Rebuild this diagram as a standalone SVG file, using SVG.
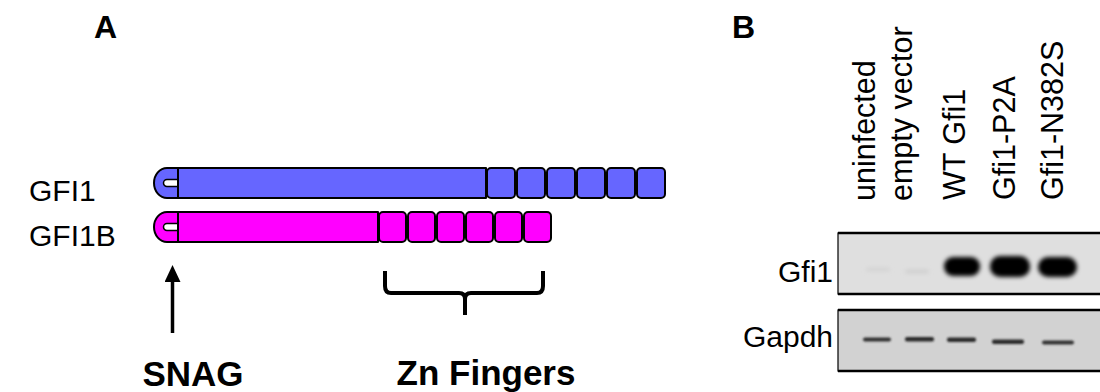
<svg xmlns="http://www.w3.org/2000/svg" width="1100" height="392" viewBox="0 0 1100 392">
  <defs>
    <style>
      .lbl { font-family: "Liberation Sans", Arial, sans-serif; fill: #000; }
      .panel { font-family: "Liberation Sans", Arial, sans-serif; font-weight: bold; fill: #000; }
      .dom { stroke: #000; stroke-width: 2; stroke-linejoin: round; }
      .g1 { fill: #6666ff; }
      .g1b { fill: #ff00ff; }
      .notch { fill: #fff; stroke: #000; stroke-width: 1.5; }
      .edge { stroke: #000; stroke-width: 2.5; }
    </style>
    <marker id="head" viewBox="0 0 17 16" refX="0" refY="8" markerWidth="17" markerHeight="16" markerUnits="userSpaceOnUse" orient="auto">
      <path d="M0,0 L17,8 L0,16 Z" fill="#000"/>
    </marker>
    <filter id="soft" x="-30%" y="-100%" width="160%" height="300%">
      <feGaussianBlur stdDeviation="2"/>
    </filter>
    <filter id="soft2" x="-30%" y="-150%" width="160%" height="400%">
      <feGaussianBlur stdDeviation="1.1"/>
    </filter>
  </defs>

  <rect width="1100" height="392" fill="#fff"/>

  <!-- panel letters -->
  <text class="panel" x="94" y="38" font-size="32">A</text>
  <text class="panel" x="732" y="38" font-size="32">B</text>

  <!-- GFI1 protein -->
  <g id="gfi1">
    <text class="lbl" x="29" y="201" font-size="30">GFI1</text>
    <path class="dom g1" d="M178,168 H167 A13,15 0 0 0 167,198 H178 Z"/>
    <path class="notch" d="M178,179.5 H167 A3.5,3.5 0 0 0 167,186.5 H178 Z"/>
    <rect class="dom g1" x="178" y="168" width="308" height="30"/>
    <rect class="dom g1" x="487" y="168" width="28" height="30" rx="4"/>
    <rect class="dom g1" x="517" y="168" width="28" height="30" rx="4"/>
    <rect class="dom g1" x="547" y="168" width="28" height="30" rx="4"/>
    <rect class="dom g1" x="577" y="168" width="28" height="30" rx="4"/>
    <rect class="dom g1" x="607" y="168" width="28" height="30" rx="4"/>
    <rect class="dom g1" x="637" y="168" width="28" height="30" rx="4"/>
  </g>

  <!-- GFI1B protein -->
  <g id="gfi1b">
    <text class="lbl" x="29" y="246" font-size="30">GFI1B</text>
    <path class="dom g1b" d="M178,212 H167 A13,15 0 0 0 167,242 H178 Z"/>
    <path class="notch" d="M178,223.5 H167 A3.5,3.5 0 0 0 167,230.5 H178 Z"/>
    <rect class="dom g1b" x="178" y="212" width="200" height="30"/>
    <rect class="dom g1b" x="379" y="212" width="27" height="30" rx="4"/>
    <rect class="dom g1b" x="408" y="212" width="27" height="30" rx="4"/>
    <rect class="dom g1b" x="437" y="212" width="27" height="30" rx="4"/>
    <rect class="dom g1b" x="466" y="212" width="27" height="30" rx="4"/>
    <rect class="dom g1b" x="495" y="212" width="27" height="30" rx="4"/>
    <rect class="dom g1b" x="524" y="212" width="27" height="30" rx="4"/>
  </g>

  <!-- domain annotations -->
  <g id="connectors">
    <line x1="172.5" y1="333" x2="172.5" y2="282" stroke="#000" stroke-width="3.5" marker-end="url(#head)"/>
    <path d="M385,271 V286 Q385,293 391,293 H459 Q465,293 465,299 V315 M465,299 Q465,293 471,293 H537 Q543,293 543,286 V271" fill="none" stroke="#000" stroke-width="4"/>
  </g>
  <g id="snag">
    <text class="panel" x="193" y="386" font-size="35" text-anchor="middle">SNAG</text>
  </g>
  <g id="znf">
    <text class="panel" x="486" y="385" font-size="35" text-anchor="middle">Zn Fingers</text>
  </g>

  <!-- lane labels -->
  <g id="lanes" class="lbl" font-size="30.5">
    <text transform="translate(875,201) rotate(-90)">uninfected</text>
    <text transform="translate(912,201) rotate(-90)">empty vector</text>
    <text transform="translate(965,200) rotate(-90)">WT Gfi1</text>
    <text transform="translate(1015,200) rotate(-90)">Gfi1-P2A</text>
    <text transform="translate(1063,200) rotate(-90)">Gfi1-N382S</text>
  </g>

  <!-- Gfi1 blot -->
  <g id="blot-gfi1">
    <text class="lbl" x="833" y="282" font-size="30" text-anchor="end">Gfi1</text>
    <rect x="838" y="233" width="264" height="61" fill="#dfdfdf" stroke="#000" stroke-width="1.2"/>
    <line class="edge" x1="838" y1="233" x2="1100" y2="233"/>
    <line class="edge" x1="838" y1="294" x2="1100" y2="294"/>
    <g filter="url(#soft)">
      <rect x="866" y="268" width="24" height="3" rx="1.5" fill="#d0d0d0"/>
      <rect x="905" y="270" width="24" height="3" rx="1.5" fill="#cbcbcb"/>
      <rect x="944" y="257" width="36" height="19" rx="9" fill="#000"/>
      <rect x="990" y="256" width="40" height="21" rx="10" fill="#000"/>
      <rect x="1038" y="257" width="39" height="20" rx="10" fill="#000"/>
    </g>
  </g>

  <!-- Gapdh blot -->
  <g id="blot-gapdh">
    <text class="lbl" x="833" y="347" font-size="30" text-anchor="end">Gapdh</text>
    <rect x="838" y="310" width="264" height="61" fill="#d2d2d2" stroke="#000" stroke-width="1.2"/>
    <line class="edge" x1="838" y1="310" x2="1100" y2="310"/>
    <line class="edge" x1="838" y1="371" x2="1100" y2="371"/>
    <g filter="url(#soft2)">
      <rect x="863" y="337.5" width="28" height="4" rx="2" fill="#303030"/>
      <rect x="905" y="337" width="29" height="4.5" rx="2" fill="#2a2a2a"/>
      <rect x="947" y="337.5" width="29" height="4.5" rx="2" fill="#2a2a2a"/>
      <rect x="992" y="339.5" width="32" height="4.5" rx="2" fill="#2a2a2a"/>
      <rect x="1042" y="340.5" width="32" height="4" rx="2" fill="#303030"/>
    </g>
  </g>
</svg>
